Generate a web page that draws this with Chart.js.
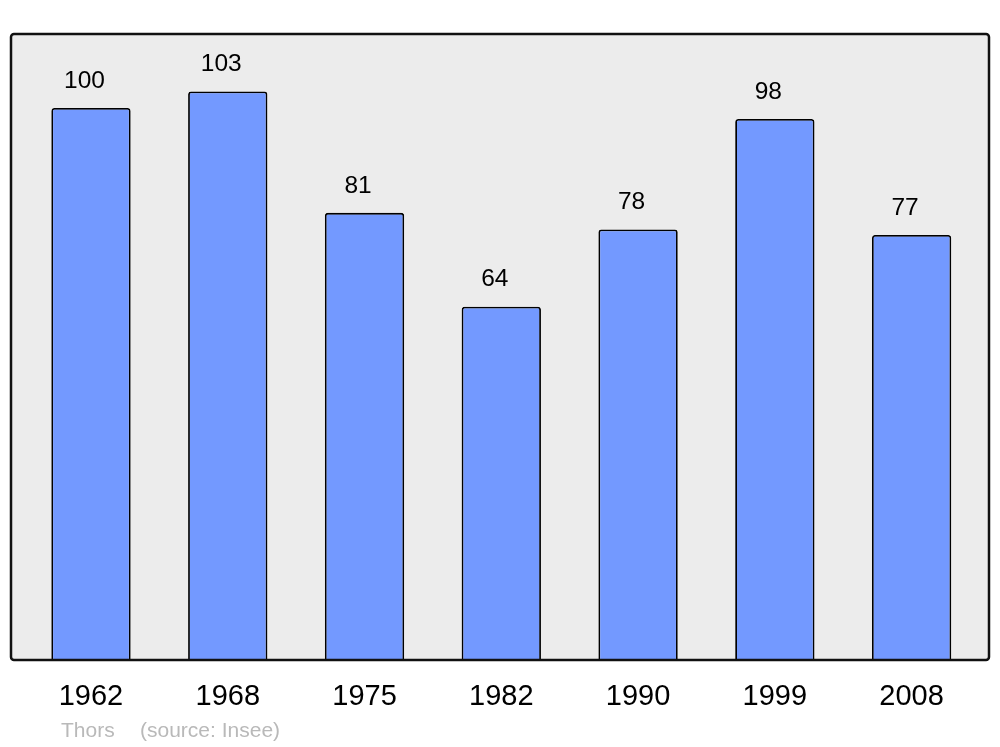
<!DOCTYPE html>
<html>
<head>
<meta charset="utf-8">
<script src="https://cdn.jsdelivr.net/npm/chart.js@4"></script>
<style>
  html, body { margin: 0; padding: 0; background: #ffffff; }
  canvas { display: block; }
</style>
</head>
<body>
<canvas id="popChart" width="1000" height="747"></canvas>
<script>
// Population by census year
const years = ['1962', '1968', '1975', '1982', '1990', '1999', '2008'];
const population = [100, 103, 81, 64, 78, 98, 77];
const footerText = ['Thors', '(source: Insee)'];

// Grey rounded frame behind the bars, border drawn on top
const framePlugin = {
    id: 'frame',
    beforeDraw(chart) {
        const ctx = chart.ctx;
        ctx.save();
        ctx.beginPath();
        ctx.roundRect(11, 34, 978, 626, 3);
        ctx.fillStyle = '#ececec';
        ctx.fill();
        ctx.restore();
    },
    afterDatasetsDraw(chart) {
        const ctx = chart.ctx;
        ctx.save();
        ctx.beginPath();
        ctx.roundRect(11, 34, 978, 626, 3);
        ctx.lineWidth = 2.5;
        ctx.strokeStyle = '#111111';
        ctx.stroke();

        // value labels above each bar
        const meta = chart.getDatasetMeta(0);
        ctx.fillStyle = '#000000';
        ctx.font = '24.5px "Liberation Sans", Arial, sans-serif';
        ctx.textAlign = 'center';
        ctx.textBaseline = 'middle';
        meta.data.forEach((bar, i) => {
            ctx.fillText(String(population[i]), bar.x - 6.5, bar.y - 27);
        });

        // source line
        ctx.fillStyle = '#b9b9b9';
        ctx.font = '21px "Liberation Sans", Arial, sans-serif';
        ctx.textAlign = 'left';
        ctx.fillText(footerText[0], 61, 731);
        ctx.fillText(footerText[1], 140, 731);
        ctx.restore();
    }
};

function initChart() {
    const ctx = document.getElementById('popChart').getContext('2d');
    new Chart(ctx, {
        type: 'bar',
        data: {
            labels: years,
            datasets: [{
                data: population,
                backgroundColor: '#7399ff',
                borderColor: '#000000',
                borderWidth: 1.8,
                borderRadius: { topLeft: 3, topRight: 3 },
                borderSkipped: 'bottom',
                barPercentage: 0.58,
                categoryPercentage: 1
            }]
        },
        options: {
            responsive: false,
            animation: false,
            layout: {
                padding: { top: 34, left: 22.6, right: 20, bottom: 13.2 }
            },
            plugins: {
                legend: { display: false },
                tooltip: { enabled: false }
            },
            scales: {
                x: {
                    grid: { display: false, drawTicks: false },
                    border: { display: false },
                    ticks: {
                        color: '#000000',
                        padding: 19.5,
                        maxRotation: 0,
                        font: { family: '"Liberation Sans", Arial, sans-serif', size: 29 }
                    }
                },
                y: {
                    display: false,
                    min: 0,
                    max: 113.4
                }
            }
        },
        plugins: [framePlugin]
    });
}

document.addEventListener('DOMContentLoaded', initChart);
</script>
</body>
</html>
